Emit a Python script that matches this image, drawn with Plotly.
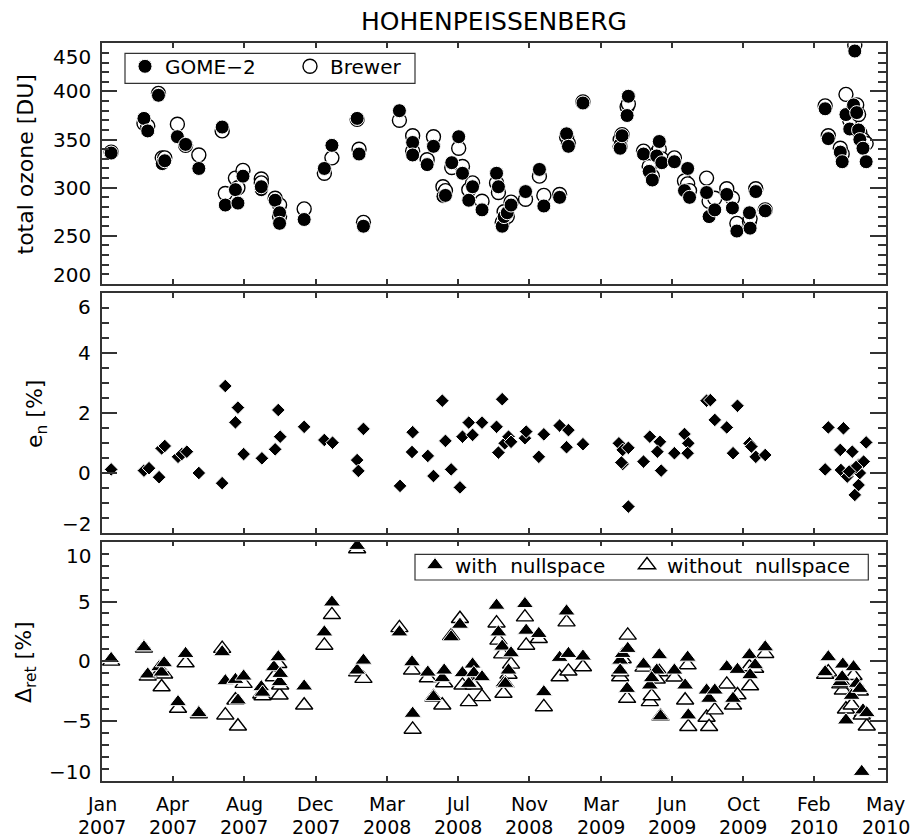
import pandas as pd
import plotly.graph_objects as go

# ---------------------------------------------------------------------------
# Hohenpeissenberg: GOME-2 vs Brewer total ozone, retrieval noise error and
# nullspace-error comparison.  Times are days since 1 Jan 2007.
# ---------------------------------------------------------------------------
START = pd.Timestamp("2007-01-01")
SPAN_DAYS = 1243

OZONE_DAY = [15, 67, 73, 90, 96, 100, 120, 133, 154, 191, 196, 212, 216, 224,
             253, 253, 275, 282, 282, 321, 353, 365, 405, 408, 415, 472, 493,
             493, 516, 526, 541, 545, 555, 566, 572, 582, 588, 603, 626, 629,
             635, 638, 643, 649, 672, 694, 701, 726, 737, 740, 763, 822, 822,
             825, 833, 835, 859, 868, 873, 880, 884, 888, 908, 924, 929, 932,
             959, 963, 972, 991, 1000, 1007, 1027, 1028, 1037, 1052, 1147,
             1152, 1171, 1174, 1180, 1186, 1192, 1194, 1197, 1200, 1202, 1207,
             1212]
GOME2_DU = [336, 372, 359, 396, 325, 328, 353, 345, 320, 363, 282, 298, 284,
            312, 298, 301, 287, 274, 263, 267, 320, 344, 372, 335, 260, 380,
            347, 334, 324, 343, 291, 292, 326, 353, 315, 287, 301, 277, 315,
            301, 260, 270, 274, 282, 296, 319, 281, 290, 356, 343, 388, 345,
            341, 354, 375, 395, 335, 317, 308, 333, 348, 326, 327, 297, 320,
            290, 295, 270, 277, 293, 279, 255, 274, 258, 296, 276, 382, 351,
            337, 327, 376, 361, 386, 442, 378, 360, 350, 341, 327]
BREWER_DU = [337, 367, 364, 398, 331, 331, 366, 344, 334, 359, 294, 310, 300,
             318, 309, 305, 289, 282, 270, 278, 315, 331, 371, 340, 264, 370,
             354, 338, 329, 353, 301, 297, 321, 341, 322, 298, 305, 286, 305,
             295, 264, 275, 270, 285, 288, 312, 292, 293, 353, 346, 389, 350,
             343, 355, 384, 387, 338, 322, 312, 336, 340, 330, 331, 307, 304,
             297, 310, 286, 289, 299, 289, 263, 265, 268, 299, 277, 385, 354,
             341, 335, 397, 370, 382, 448, 386, 376, 357, 350, 346]

EN_DAY = [15, 67, 75, 91, 95, 100, 121, 127, 135, 154, 191, 196, 216, 212,
          225, 254, 275, 280, 283, 321, 353, 366, 405, 407, 415, 473, 493, 492,
          517, 526, 540, 545, 554, 568, 572, 582, 588, 603, 626, 635, 629, 639,
          645, 649, 671, 673, 693, 701, 726, 740, 737, 763, 820, 826, 835, 826,
          835, 824, 859, 869, 885, 881, 887, 908, 924, 930, 929, 959, 965, 972,
          991, 1001, 1008, 1027, 1030, 1037, 1052, 1147, 1152, 1171, 1176,
          1172, 1182, 1190, 1189, 1194, 1200, 1202, 1200, 1208, 1212, 1196,
          1185]
EN_PCT = [0.12, 0.08, 0.16, -0.14, 0.82, 0.90, 0.54, 0.63, 0.71, 0.00, -0.34,
          2.90, 2.18, 1.69, 0.63, 0.49, 0.79, 2.10, 1.21, 1.54, 1.10, 1.01,
          0.43, 0.07, 1.47, -0.43, 1.36, 0.70, 0.57, -0.10, 2.41, 1.07, 0.12,
          -0.48, 1.21, 1.68, 1.27, 1.68, 1.54, 2.46, 0.68, 0.99, 1.21, 1.04,
          1.16, 1.38, 0.54, 1.29, 1.58, 1.43, 0.86, 0.96, 0.99, 0.77, 0.84,
          0.30, -1.12, 0.35, 0.38, 1.21, 1.04, 0.71, 0.08, 0.66, 1.30, 0.99,
          0.66, 2.41, 2.43, 1.77, 1.52, 0.66, 2.24, 0.99, 0.88, 0.54, 0.60,
          0.12, 1.52, 0.77, 1.49, 0.10, -0.12, 0.71, 0.10, -0.73, -0.40, 0.00,
          0.27, 0.38, 1.02, 0.20, 0.05]

DRET_DAY = [15, 67, 73, 91, 95, 99, 121, 133, 154, 191, 196, 212, 216, 225,
            253, 255, 273, 280, 282, 283, 321, 353, 365, 405, 405, 415, 472,
            492, 493, 517, 526, 540, 543, 554, 568, 572, 582, 588, 590, 603,
            626, 629, 635, 637, 645, 649, 640, 671, 673, 693, 701, 726, 737,
            740, 763, 822, 826, 834, 822, 833, 859, 869, 884, 880, 886, 872,
            908, 929, 925, 930, 959, 963, 972, 991, 1001, 1008, 1027, 1036,
            1028, 1052, 1152, 1147, 1175, 1171, 1180, 1192, 1189, 1197, 1202,
            1207, 1213, 1205, 1174]
DRET_WITH = [0.22, 1.19, -1.08, -0.47, -0.92, -0.14, -3.39, 0.64, -4.31, 0.78,
             -1.64, -1.53, -3.25, -1.25, -2.14, -2.60, -0.47, 0.36, -1.72,
             -1.03, -2.08, 2.44, 4.94, 9.67, -0.75, 0.08, 2.44, -0.06, -4.36,
             -0.92, -2.97, -1.39, -0.75, 2.03, 3.08, -0.97, -1.86, -0.25,
             -0.97, -1.31, 4.67, 2.44, 1.25, -1.81, -0.75, 0.69, -1.86, 4.81,
             2.58, 2.31, -2.56, 0.31, 4.19, 0.64, 0.42, 0.08, 0.64, 1.06,
             -0.75, -2.28, -0.25, -2.00, 0.53, -0.75, -4.58, -1.39, -0.75,
             0.33, -2.00, -4.50, -2.42, -3.11, -2.42, -0.47, -3.11, -0.69,
             0.53, -0.31, -1.14, 1.19, 0.36, -0.89, -0.25, -1.72, -4.92,
             -0.47, -2.86, -1.86, -2.28, -4.08, -4.31, -9.22, -1.31]
DRET_WITHOUT = [0.00, 1.10, -1.25, -1.00, -2.14, -1.08, -3.94, -0.14, -4.40,
                1.06, -4.50, -3.25, -5.42, -1.86, -2.75, -2.90, -1.31, -0.20,
                -2.83, -2.00, -3.67, 1.33, 3.89, 9.39, -0.90, -1.44, 2.80,
                -0.75, -5.69, -1.39, -3.00, -3.67, -1.81, 2.10, 3.56, -2.00,
                -3.39, -1.86, -2.00, -2.97, 3.19, 1.75, 0.60, -2.69, -1.10,
                -0.25, -1.86, 3.70, 1.33, 1.89, -3.81, -1.31, 3.28, -0.83,
                -0.47, -1.31, 0.20, 2.17, -0.90, -3.11, -0.50, -3.39, -0.89,
                -1.50, -4.60, -2.90, -1.33, -0.31, -3.25, -5.47, -4.69, -5.47,
                -4.08, -1.92, -3.67, -2.81, -0.47, -0.60, -2.06, 0.64, -0.90,
                -1.10, -2.42, -1.90, -4.00, -1.20, -3.67, -2.30, -2.50, -4.30,
                -5.42, -4.50, -1.80]

MONTH_LABELS = ["Jan", "Apr", "Aug", "Dec", "Mar", "Jul", "Nov", "Mar", "Jun",
                "Oct", "Feb", "May"]
YEAR_LABELS = ["2007", "2007", "2007", "2007", "2008", "2008", "2008", "2009",
               "2009", "2009", "2010", "2010"]

OZONE_TICKS = [200, 250, 300, 350, 400, 450]
EN_TICKS = [-2, 0, 2, 4, 6]
DRET_TICKS = [-10, -5, 0, 5, 10]

TITLE = "HOHENPEISSENBERG"

# ---------------------------------------------------------------------------
W, H = 915, 839
FONT = "DejaVu Sans"
INK = "#000000"
AXC = "#333333"


def to_dates(days):
    return START + pd.to_timedelta(days, unit="D")


def px_x(p):
    return p / W


def px_y(p):
    return (H - p) / H


X_DOMAIN = [px_x(101.7), px_x(885.7)]
PANELS = {  # top, bottom in pixels
    1: (43.3, 284.0),
    2: (293.0, 533.0),
    3: (541.7, 781.0),
}
X_END = START + pd.Timedelta(days=SPAN_DAYS)
X_TICKS = [START + pd.Timedelta(days=SPAN_DAYS * i / (len(MONTH_LABELS) - 1))
           for i in range(len(MONTH_LABELS))]

fig = go.Figure()

# --- panel 1: total ozone ---------------------------------------------------
fig.add_trace(go.Scatter(
    x=to_dates(OZONE_DAY), y=BREWER_DU, mode="markers", name="Brewer",
    xaxis="x", yaxis="y", legend="legend", legendrank=2, legendwidth=70,
    marker=dict(symbol="circle", size=14, color="white",
                line=dict(color=INK, width=1.4))))
fig.add_trace(go.Scatter(
    x=to_dates(OZONE_DAY), y=GOME2_DU, mode="markers", name="GOME\u22122",
    xaxis="x", yaxis="y", legend="legend", legendrank=1, legendwidth=120,
    marker=dict(symbol="circle", size=14, color=INK,
                line=dict(color="white", width=1))))

# --- panel 2: noise error ---------------------------------------------------
fig.add_trace(go.Scatter(
    x=to_dates(EN_DAY), y=EN_PCT, mode="markers", showlegend=False,
    xaxis="x2", yaxis="y2",
    marker=dict(symbol="diamond", size=10.5, color=INK,
                line=dict(color="white", width=1))))

# --- panel 3: retrieval differences -----------------------------------------
fig.add_trace(go.Scatter(
    x=to_dates(DRET_DAY), y=DRET_WITHOUT, mode="markers",
    name="without\u00a0 nullspace",
    xaxis="x3", yaxis="y3", legend="legend2", legendrank=2, legendwidth=190,
    marker=dict(symbol="triangle-up", size=15, color="white",
                line=dict(color=INK, width=1.4))))
fig.add_trace(go.Scatter(
    x=to_dates(DRET_DAY), y=DRET_WITH, mode="markers",
    name="with\u00a0 nullspace",
    xaxis="x3", yaxis="y3", legend="legend2", legendrank=1, legendwidth=167,
    marker=dict(symbol="triangle-up", size=15, color=INK,
                line=dict(color="white", width=1))))


def xaxis_cfg(anchor):
    return dict(domain=X_DOMAIN, anchor=anchor, type="date",
                range=[START, X_END], tickmode="array", tickvals=X_TICKS,
                showticklabels=False, ticks="inside", ticklen=5, tickwidth=1.5,
                tickcolor=AXC, mirror="ticks", showline=True, linecolor=AXC,
                linewidth=1.5, showgrid=False, zeroline=False)


def yaxis_cfg(anchor, panel, lo, hi, major, minor):
    top, bot = PANELS[panel]
    return dict(domain=[px_y(bot), px_y(top)], anchor=anchor, range=[lo, hi],
                tickmode="linear", tick0=lo, dtick=major, showticklabels=False,
                ticks="inside", ticklen=16, tickwidth=1.5, tickcolor=AXC,
                minor=dict(tickmode="linear", tick0=lo, dtick=minor,
                           ticks="inside", ticklen=8, tickwidth=1.5,
                           tickcolor=AXC, showgrid=False),
                mirror="ticks", showline=True, linecolor=AXC, linewidth=1.5,
                showgrid=False, zeroline=False)


annotations = []


def y_labels(yref, ticks, size=20):
    for i, v in enumerate(ticks):
        txt = str(v).replace("-", "\u2212")
        if i == 0:
            anchor, shift = "bottom", -5
        elif i == len(ticks) - 1:
            anchor, shift = "top", 0
        else:
            anchor, shift = "middle", 0
        annotations.append(dict(
            text=txt, x=px_x(92.5), xref="paper", xanchor="right",
            y=v, yref=yref, yanchor=anchor, yshift=shift, showarrow=False,
            font=dict(family=FONT, size=size, color=INK)))


y_labels("y", OZONE_TICKS)
y_labels("y2", EN_TICKS)
y_labels("y3", DRET_TICKS)

# two-row date labels under the bottom panel
for t, m, yr in zip(X_TICKS, MONTH_LABELS, YEAR_LABELS):
    annotations.append(dict(text=m, x=t, xref="x3", y=px_y(804.2),
                            yref="paper", xanchor="center", yanchor="middle",
                            showarrow=False, borderpad=0,
                            font=dict(family=FONT, size=19, color=INK)))
    annotations.append(dict(text=yr, x=t, xref="x3", y=px_y(826.8),
                            yref="paper", xanchor="center", yanchor="middle",
                            showarrow=False, borderpad=0,
                            font=dict(family=FONT, size=19, color=INK)))

# axis titles
for txt, cx, cy in [("total ozone [DU]", 25.5, 165.0),
                    ("e<sub>n</sub> [%]", 37.0, 414.0),
                    ("\u0394<sub>ret</sub> [%]", 25.0, 662.0)]:
    annotations.append(dict(text=txt, x=px_x(cx), y=px_y(cy), xref="paper",
                            yref="paper", xanchor="center", yanchor="middle",
                            textangle=-90, showarrow=False,
                            font=dict(family=FONT, size=22, color=INK)))

annotations.append(dict(text=TITLE, x=px_x(493.7), y=px_y(21.3),
                        xref="paper", yref="paper", xanchor="center",
                        yanchor="middle", showarrow=False,
                        font=dict(family=FONT, size=25, color=INK)))

# framed boxes behind the two legends
shapes = [
    dict(type="rect", xref="paper", yref="paper", layer="above",
         x0=px_x(125), x1=px_x(415), y0=px_y(83.3), y1=px_y(53.3),
         fillcolor="white", line=dict(color=AXC, width=1.2)),
    dict(type="rect", xref="paper", yref="paper", layer="above",
         x0=px_x(415), x1=px_x(868.3), y0=px_y(580), y1=px_y(554.3),
         fillcolor="white", line=dict(color=AXC, width=1.2)),
]

legend_common = dict(orientation="h", xanchor="left", yanchor="top",
                     bgcolor="rgba(0,0,0,0)", borderwidth=0,
                     font=dict(family=FONT, size=20, color=INK),
                     entrywidthmode="pixels", traceorder="normal")

fig.update_layout(
    width=W, height=H,
    margin=dict(l=0, r=0, t=0, b=0, autoexpand=False),
    paper_bgcolor="white", plot_bgcolor="white",
    font=dict(family=FONT, size=20, color=INK),
    xaxis=xaxis_cfg("y"), yaxis=yaxis_cfg("x", 1, 200, 450, 50, 10),
    xaxis2=xaxis_cfg("y2"), yaxis2=yaxis_cfg("x2", 2, -2, 6, 2, 0.5),
    xaxis3=xaxis_cfg("y3"), yaxis3=yaxis_cfg("x3", 3, -10, 10, 5, 1),
    legend=dict(legend_common, x=px_x(125), y=px_y(46.8)),
    legend2=dict(legend_common, x=px_x(415), y=px_y(545.5)),
    annotations=annotations,
    shapes=shapes,
    showlegend=True,
)

fig.write_html("out.html")
